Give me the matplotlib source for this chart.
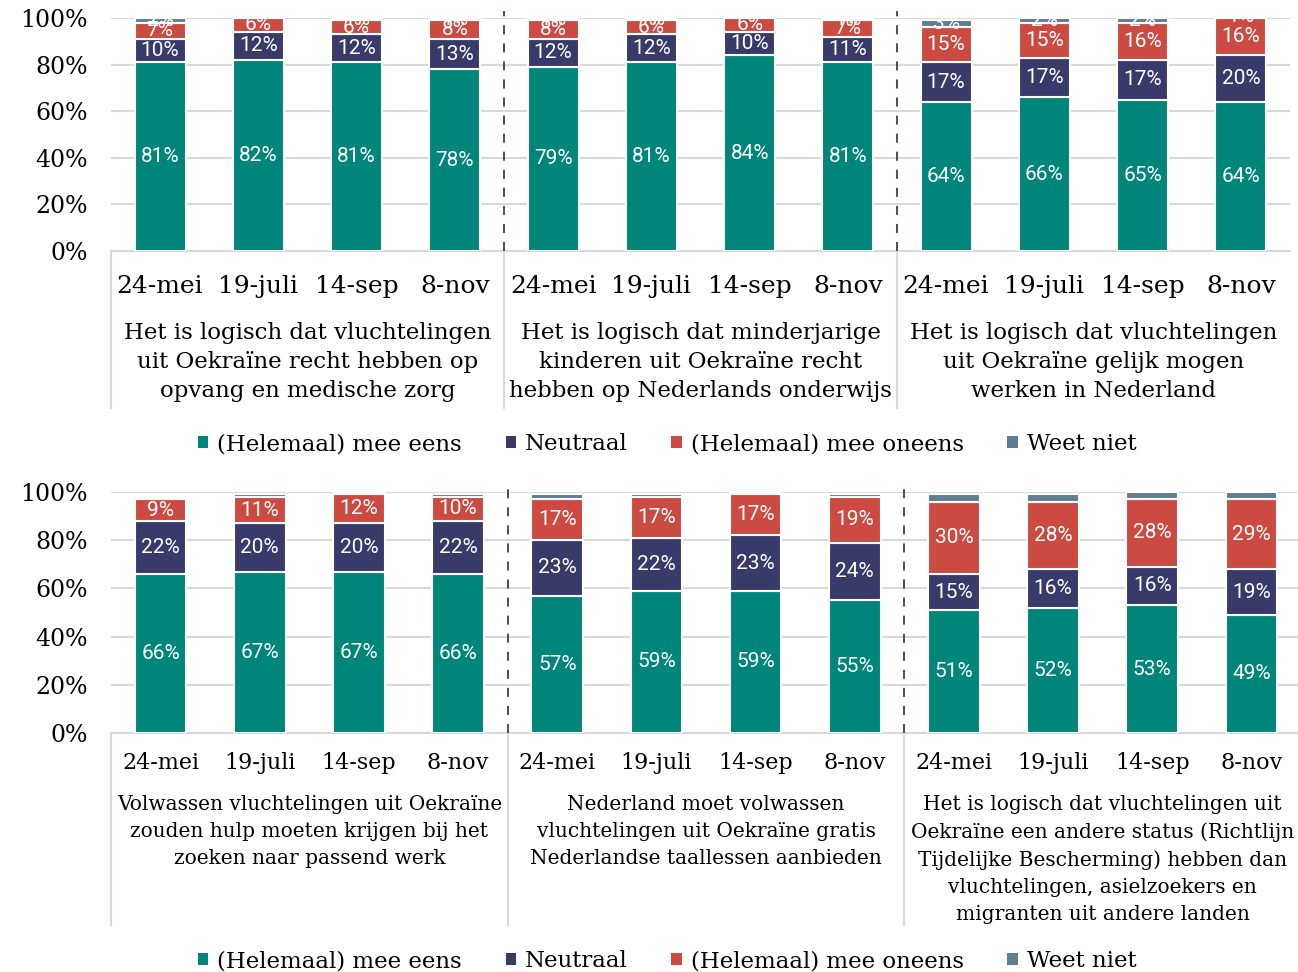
import matplotlib
matplotlib.use("Agg")
from matplotlib import pyplot as plt
from matplotlib.patches import Patch
import numpy as np

dates = ["24-mei", "19-juli", "14-sep", "8-nov"]
series_names = ["(Helemaal) mee eens", "Neutraal", "(Helemaal) mee oneens", "Weet niet"]
colors = ["#00857a", "#383b6a", "#cb4b43", "#607d92"]

top_titles = [
    "Het is logisch dat vluchtelingen\nuit Oekraïne recht hebben op\nopvang en medische zorg",
    "Het is logisch dat minderjarige\nkinderen uit Oekraïne recht\nhebben op Nederlands onderwijs",
    "Het is logisch dat vluchtelingen\nuit Oekraïne gelijk mogen\nwerken in Nederland",
]
top_eens = [81, 82, 81, 78, 79, 81, 84, 81, 64, 66, 65, 64]
top_neutraal = [10, 12, 12, 13, 12, 12, 10, 11, 17, 17, 17, 20]
top_oneens = [7, 6, 6, 8, 8, 6, 6, 7, 15, 15, 16, 16]
top_weetniet = [2, 0, 1, 1, 1, 1, 0, 1, 3, 2, 2, 1]

bottom_titles = [
    "Volwassen vluchtelingen uit Oekraïne\nzouden hulp moeten krijgen bij het\nzoeken naar passend werk",
    "Nederland moet volwassen\nvluchtelingen uit Oekraïne gratis\nNederlandse taallessen aanbieden",
    "Het is logisch dat vluchtelingen uit\nOekraïne een andere status (Richtlijn\nTijdelijke Bescherming) hebben dan\nvluchtelingen, asielzoekers en\nmigranten uit andere landen",
]
bottom_eens = [66, 67, 67, 66, 57, 59, 59, 55, 51, 52, 53, 49]
bottom_neutraal = [22, 20, 20, 22, 23, 22, 23, 24, 15, 16, 16, 19]
bottom_oneens = [9, 11, 12, 10, 17, 17, 17, 19, 30, 28, 28, 29]
bottom_weetniet = [1, 1, 1, 1, 2, 1, 1, 1, 3, 3, 3, 3]

SERIF = "DejaVu Serif"
SANS = "Roboto"
W, H = 1298, 972


def draw_panel(ax, series, titles, label_weetniet, date_size, date_pad, title_size,
               title_y, title_ls, sep_len):
    x = np.arange(12)
    bottom = np.zeros(12)
    for i, vals in enumerate(series):
        vals = np.array(vals, dtype=float)
        ax.bar(x, vals, 0.52, bottom=bottom, color=colors[i], edgecolor="white",
               linewidth=1.5, zorder=3)
        for xi, v, b in zip(x, vals, bottom):
            if v <= 0 or (i == 3 and not label_weetniet):
                continue
            ax.text(xi, b + v / 2, f"{int(v)}%", ha="center", va="center",
                    color="white", fontsize=15, family=SANS, zorder=4)
        bottom += vals

    ax.set_xlim(-0.5, 11.5)
    ax.set_ylim(0, 100)
    ax.set_yticks(range(0, 101, 20))
    ax.set_yticklabels([f"{v}%" for v in range(0, 101, 20)], family=SERIF, fontsize=17)
    ax.grid(axis="y", color="#d9d9d9", linewidth=1.5, zorder=0)
    ax.tick_params(axis="y", length=0, pad=16.5)
    ax.set_xticks(x)
    ax.set_xticklabels(dates * 3, family=SERIF, fontsize=date_size)
    ax.tick_params(axis="x", length=0, pad=date_pad)
    for s in ["top", "right", "left"]:
        ax.spines[s].set_visible(False)
    ax.spines["bottom"].set_color("#d9d9d9")
    ax.spines["bottom"].set_linewidth(1.5)

    trans = ax.get_xaxis_transform()
    for b in [3.5, 7.5]:
        ax.plot([b, b], [0, 1.03], transform=trans, color="#383b6a", linestyle=(0, (5, 5)),
                linewidth=1.3, clip_on=False, zorder=5)
    for b in [-0.5, 3.5, 7.5]:
        ax.plot([b, b], [0, -sep_len], transform=trans, color="#d9d9d9", linewidth=1.5,
                clip_on=False)
    for g, t in enumerate(titles):
        ax.text(g * 4 + 1.5, title_y, t, transform=trans, ha="center", va="top",
                family=SERIF, fontsize=title_size, linespacing=title_ls)


fig = plt.figure(figsize=(W / 100, H / 100), dpi=100)

ax1 = fig.add_axes([111 / W, 1 - 251 / H, 1179 / W, 233 / H])
draw_panel(ax1, [top_eens, top_neutraal, top_oneens, top_weetniet], top_titles, True,
           date_size=18, date_pad=17, title_size=16.5, title_y=-0.303, title_ls=1.43,
           sep_len=0.674)

ax2 = fig.add_axes([111 / W, 1 - 733 / H, 1190 / W, 241 / H])
draw_panel(ax2, [bottom_eens, bottom_neutraal, bottom_oneens, bottom_weetniet], bottom_titles,
           False, date_size=16, date_pad=14, title_size=14.5, title_y=-0.258, title_ls=1.53,
           sep_len=0.797)

handles = [Patch(facecolor=c, edgecolor="none") for c in colors]
for yc in [1 - 444 / H, 1 - 961 / H]:
    fig.legend(handles, series_names, loc="center", bbox_to_anchor=(0.514, yc), ncol=4,
               frameon=False, prop={"family": SERIF, "size": 16.5}, handlelength=0.45,
               handleheight=0.45, handletextpad=0.4, columnspacing=1.9)

fig.savefig("out.png", dpi=100)
